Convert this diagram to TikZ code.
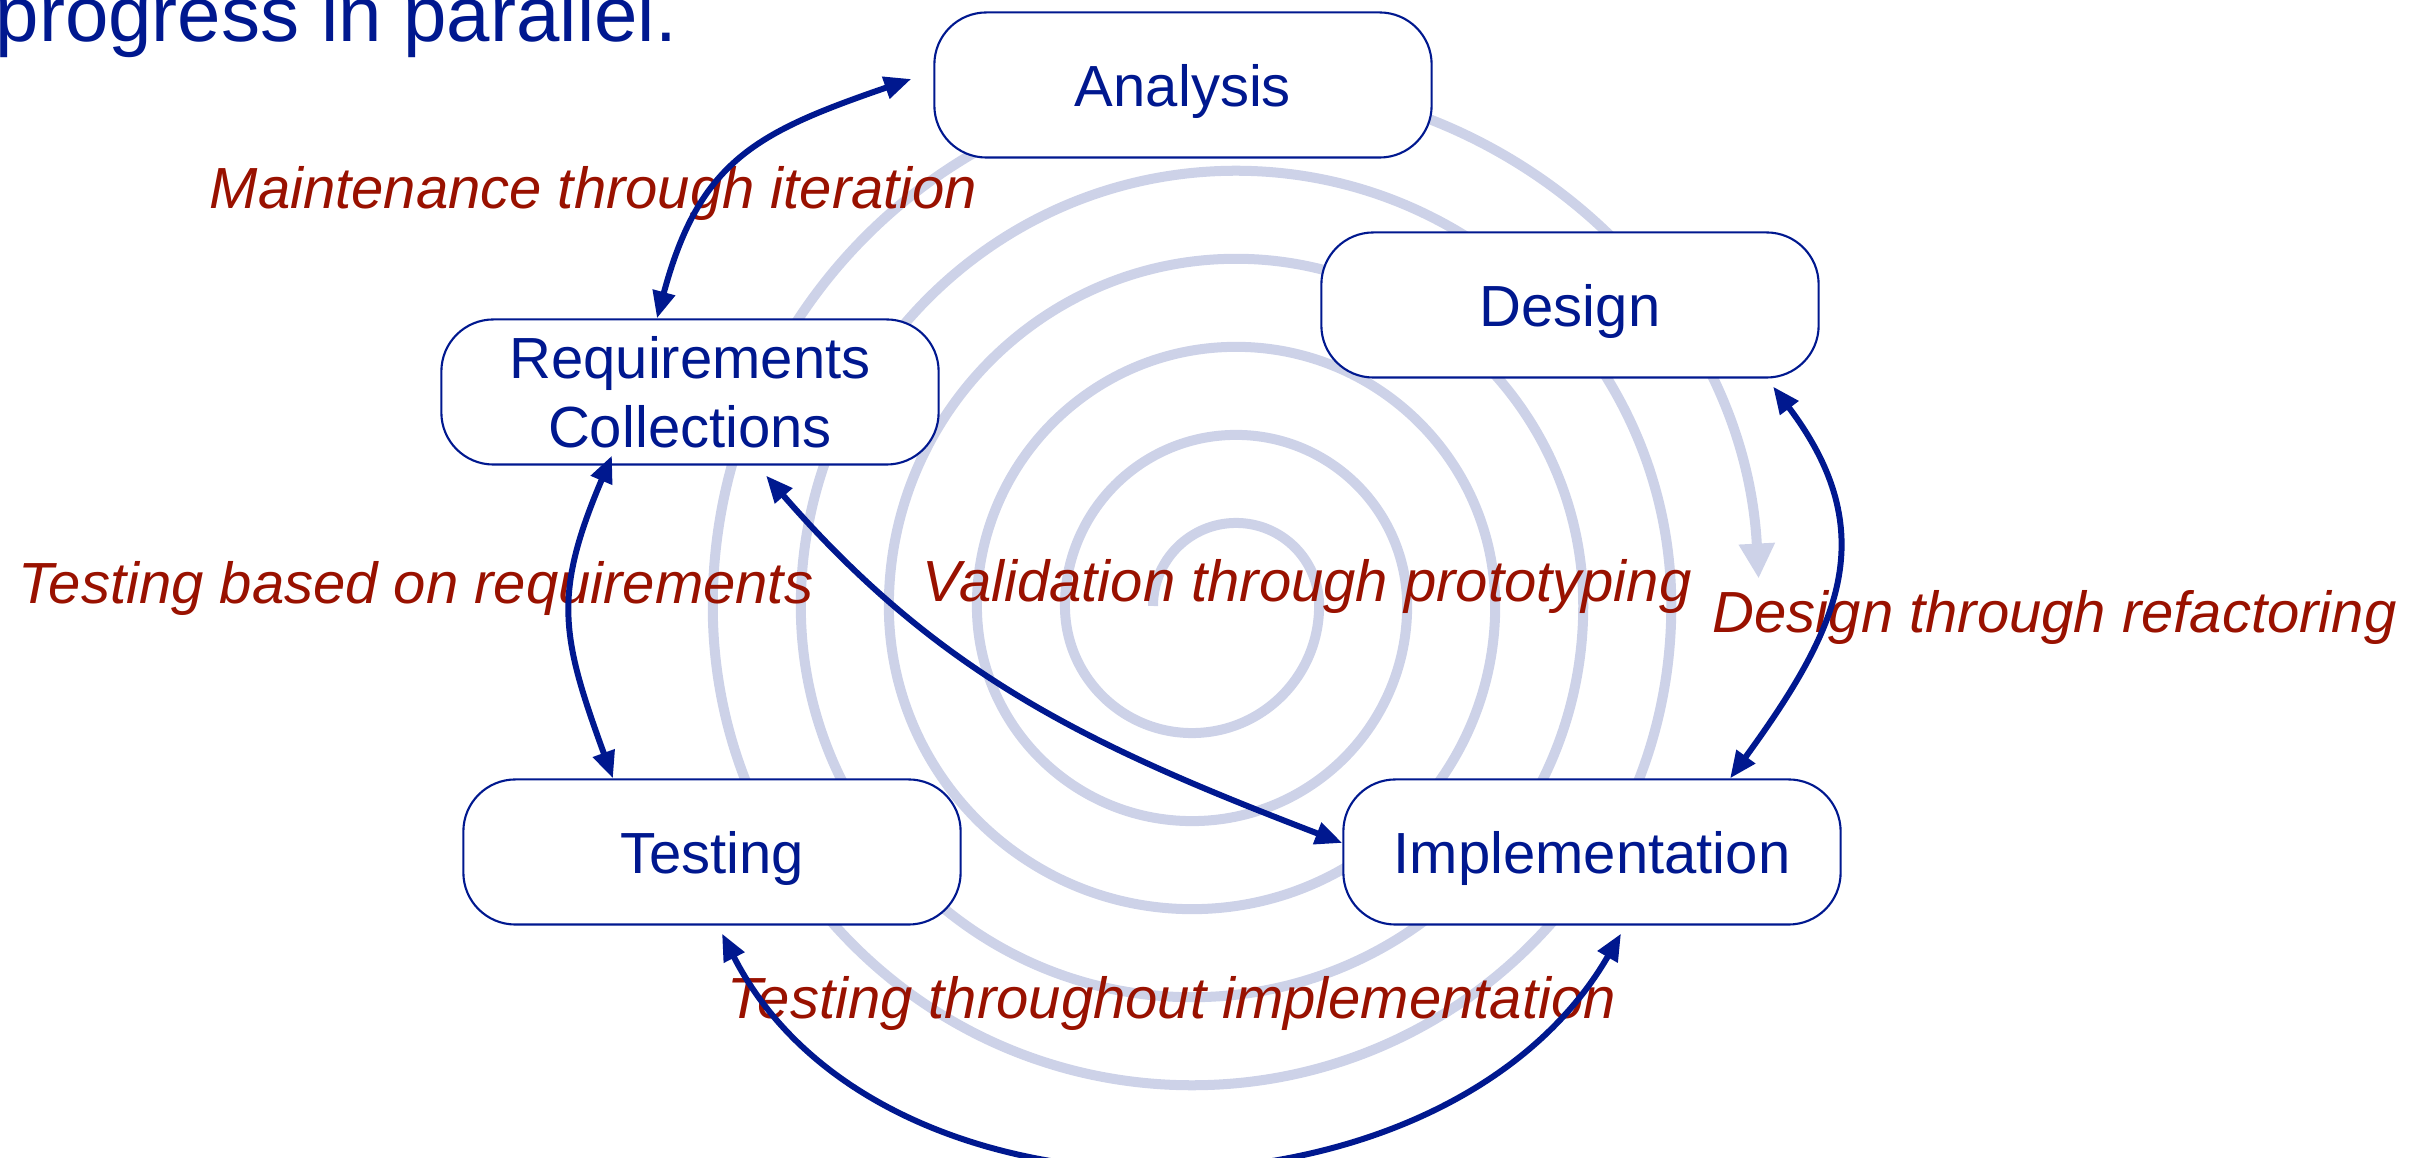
\documentclass[tikz,border=0pt]{standalone}
\usepackage{fontspec}
\setmainfont{Liberation Sans}
\usetikzlibrary{arrows.meta, positioning}

\definecolor{phaseblue}{RGB}{0,24,143}
\definecolor{notered}{RGB}{153,17,0}
\definecolor{spiralgray}{RGB}{205,210,232}

\begin{document}
\begin{tikzpicture}[x=0.01cm, y=0.01cm,
  phase/.style={draw=phaseblue, line width=0.6pt, fill=white, rounded corners=0.52cm,
    minimum width=4.97cm, minimum height=1.45cm, text height=0.44cm, text depth=0pt,
    text=phaseblue, font=\fontsize{16.5}{19.5}\selectfont},
  note/.style={text=notered, font=\fontsize{16.5}{19.5}\selectfont\itshape,
    anchor=base west, inner sep=0pt},
  link/.style={phaseblue, line width=1.7pt, <->,
    >={Triangle[length=0.27cm,width=0.22cm]}},
  spiral/.style={spiralgray, line width=0.1cm,
    -{Triangle[length=0.35cm,width=0.34cm]}}]

  \useasboundingbox (0,0) rectangle (2426,1158);
  \clip (0,0) rectangle (2426,1158);

  % Title line (cut at the top)
  \node[anchor=base west, inner sep=0pt, text=phaseblue,
    font=\fontsize{22.2}{26}\selectfont] (title) at (-5,1116) {progress in parallel.};

  % Spiral, from the centre outwards
  \draw[spiral] (1153,552)
    \foreach \ra/\rb in {0.83/1.27, 1.71/2.15, 2.59/3.03, 3.47/3.91, 4.35/4.79} {
      arc[start angle=180, end angle=0, radius=\ra cm]
      arc[start angle=0, end angle=-180, radius=\rb cm]
    }
    arc[start angle=180, end angle=3, radius=5.23cm];

  % Phases
  \node[phase] (ana) at (1183,1073) {Analysis};
  \node[phase] (des) at (1570,853) {Design};
  \node[phase, align=center, text height={}, text depth={}] (req) at (690,766) {Requirements\\Collections};
  \node[phase] (tst) at (712,306) {Testing};
  \node[phase] (imp) at (1592,306) {Implementation};

  % Labels
  \node[note] (maint) at (209,949) {Maintenance through iteration};
  \node[note] (tbreq) at (18,554) {Testing based on requirements};
  \node[note] (valid) at (922,556) {Validation through prototyping};
  \node[note] (refac) at (1712,525) {Design through refactoring};
  \node[note] (tthru) at (727,139) {Testing throughout implementation};

  % Links between phases
  \draw[link] ([xshift=-0.33cm]req.north) to[out=75, in=199, looseness=1.2] ([xshift=-0.22cm, yshift=0.06cm]ana.west);
  \draw[link] ([xshift=-0.78cm, yshift=0.1cm]req.south) to[out=247, in=110, looseness=1.2] ([xshift=-0.99cm]tst.north);
  \draw[link] ([xshift=0.76cm, yshift=-0.1cm]req.south) to[out=311, in=159] ([yshift=0.09cm]imp.west);
  \draw[link] ([xshift=2.03cm, yshift=-0.08cm]des.south) to[out=307, in=54, looseness=1.2] ([xshift=1.38cm]imp.north);
  \draw[link] ([xshift=0.1cm, yshift=-0.08cm]tst.south) to[out=297, in=240] ([xshift=0.29cm, yshift=-0.08cm]imp.south);

\end{tikzpicture}
\end{document}
